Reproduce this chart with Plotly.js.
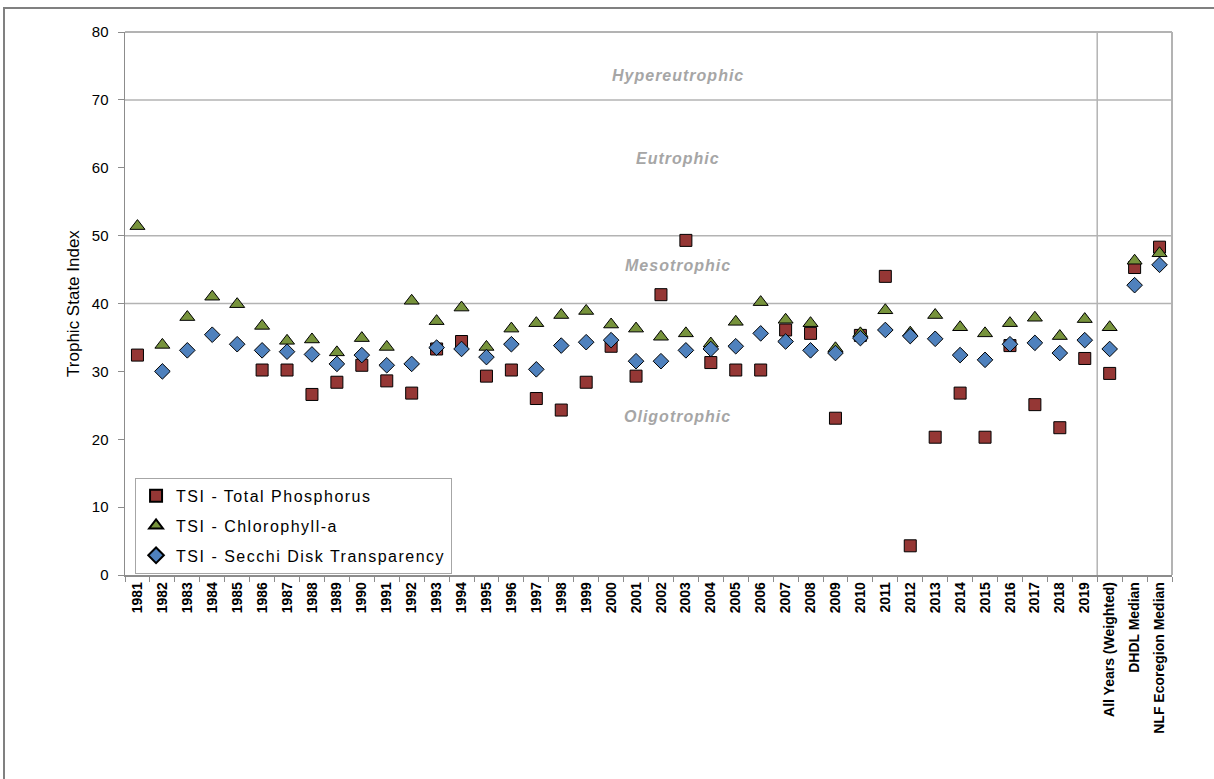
<!DOCTYPE html>
<html><head><meta charset="utf-8">
<script src="https://cdn.plot.ly/plotly-3.0.1.min.js"></script>
<style>
html,body{margin:0;padding:0;background:#fff;overflow:hidden;}
#chart{width:1214px;height:779px;}
#frame{position:absolute;left:3px;top:7px;width:1230px;height:800px;border-left:2px solid #808080;border-top:2px solid #808080;pointer-events:none;}
.legendtext{letter-spacing:1.5px;}
.annotation-text{letter-spacing:1px;}
</style></head><body>
<div id="chart"></div><div id="frame"></div>
<script>
const categories = ["1981","1982","1983","1984","1985","1986","1987","1988","1989","1990",
  "1991","1992","1993","1994","1995","1996","1997","1998","1999","2000",
  "2001","2002","2003","2004","2005","2006","2007","2008","2009","2010",
  "2011","2012","2013","2014","2015","2016","2017","2018","2019",
  "All Years (Weighted)","DHDL Median","NLF Ecoregion Median"];

const tsiPhosphorus = [32.4,null,null,null,null,30.2,30.2,26.6,28.4,30.9,
  28.6,26.8,33.3,34.4,29.3,30.2,26.0,24.3,28.4,33.7,
  29.3,41.3,49.3,31.3,30.2,30.2,36.1,35.6,23.1,35.3,
  44.0,4.3,20.3,26.8,20.3,33.8,25.1,21.7,31.9,
  29.7,45.3,48.3];

const tsiChlorophyll = [51.4,33.9,38.0,41.0,39.9,36.7,34.5,34.7,32.8,34.9,
  33.6,40.4,37.4,39.4,33.6,36.3,37.1,38.3,38.9,36.9,
  36.3,35.1,35.6,34.1,37.3,40.2,37.6,37.1,33.4,35.6,
  39.0,35.7,38.3,36.5,35.6,37.1,37.9,35.2,37.7,
  36.5,46.3,47.4];

const tsiSecchi = [null,30.0,33.1,35.4,34.0,33.1,32.9,32.5,31.1,32.4,
  30.9,31.1,33.5,33.3,32.1,34.0,30.3,33.8,34.3,34.6,
  31.5,31.5,33.1,33.3,33.7,35.6,34.4,33.1,32.7,34.9,
  36.1,35.2,34.8,32.4,31.7,34.0,34.2,32.7,34.6,
  33.3,42.7,45.7];

const seriesNames = ["TSI - Total Phosphorus","TSI - Chlorophyll-a","TSI - Secchi Disk Transparency"];
const zoneLabels = ["Hypereutrophic","Eutrophic","Mesotrophic","Oligotrophic"];
const zoneLabelY = [73.6,61.4,45.6,23.3];
const zoneBounds = [40,50,70];
const yTicks = [0,10,20,30,40,50,60,70,80];

const FONT = "Liberation Sans, Arial, sans-serif";

function trace(name, y, symbol, color, size, grp){
  return {type:"scatter", mode:"markers", name:name, x:categories, y:y,
    legendgroup:grp,
    marker:{symbol:symbol, color:color, size:size, line:{color:"#000", width:1}},
    cliponaxis:false};
}

const data = [
  trace(seriesNames[0], tsiPhosphorus, "square", "#953735", 12, "g1"),
  trace(seriesNames[1], tsiChlorophyll, "triangle-up", "#77933C", 13, "g2"),
  trace(seriesNames[2], tsiSecchi, "diamond", "#4F81BD", 12, "g3")
];

const shapes = [];
zoneBounds.forEach(v => shapes.push({type:"line", xref:"paper", yref:"y", x0:0, x1:1, y0:v, y1:v,
  line:{color:"#b3b3b3", width:1.5}, layer:"below"}));
shapes.push({type:"line", xref:"paper", yref:"paper", x0:0, x1:1, y0:1, y1:1, line:{color:"#b3b3b3", width:2}});
shapes.push({type:"line", xref:"paper", yref:"paper", x0:1, x1:1, y0:0, y1:1, line:{color:"#b3b3b3", width:2}});
shapes.push({type:"line", xref:"x", yref:"paper", x0:38.5, x1:38.5, y0:0, y1:1, line:{color:"#b3b3b3", width:1.5}, layer:"below"});

const annotations = zoneLabels.map((t,i) => ({xref:"paper", yref:"y", x:0.528, y:zoneLabelY[i],
  text:"<b><i>"+t+"</i></b>", showarrow:false, font:{family:FONT, size:16, color:"#a6a6a6"},
  xanchor:"center", yanchor:"middle"}));

const layout = {
  width:1214, height:779,
  margin:{l:125, r:42, t:32, b:204},
  paper_bgcolor:"#fff", plot_bgcolor:"#fff",
  font:{family:FONT, color:"#000"},
  showlegend:true,
  legend:{x:0.0096, y:0.179, xanchor:"left", yanchor:"top", bgcolor:"#fff",
    bordercolor:"#a6a6a6", borderwidth:1, font:{family:FONT, size:16, color:"#000"},
    traceorder:"grouped", tracegroupgap:6, itemwidth:30, itemsizing:"constant"},
  xaxis:{type:"category", range:[-0.5,41.5], tickangle:-90, tickson:"boundaries",
    ticks:"outside", ticklen:5, tickcolor:"#8c8c8c", showgrid:false, zeroline:false,
    showline:true, linecolor:"#8c8c8c", linewidth:1.5,
    tickfont:{family:FONT, size:14, weight:"bold", color:"#000"}},
  yaxis:{range:[0,80], tickvals:yTicks, ticks:"outside", ticklen:6, tickcolor:"#8c8c8c",
    showgrid:false, zeroline:false, showline:true, linecolor:"#8c8c8c", linewidth:1.5,
    tickfont:{family:FONT, size:15, color:"#000"}, ticklabelstandoff:6,
    title:{text:"Trophic State Index", font:{family:FONT, size:17, color:"#000"}, standoff:8}},
  shapes:shapes,
  annotations:annotations
};

Plotly.newPlot("chart", data, layout, {displayModeBar:false, staticPlot:true});
</script>
</body></html>
